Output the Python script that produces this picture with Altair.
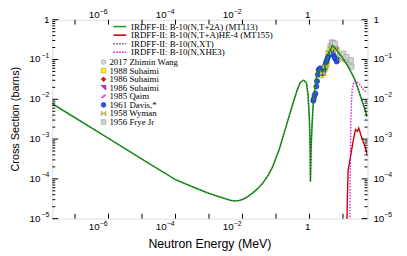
import altair as alt
import pandas as pd

W, H = 320, 202
E_DOMAIN = [2.1e-8, 54.0]
S_DOMAIN = [1e-5, 1.0]

# ---- evaluated curves (MeV, barns) ----
mt113_E = [2.09e-8, 1e-7, 1e-6, 5.0e-6, 2.0e-5, 1e-4, 2.5e-4, 4.5e-4, 8.9e-4, 1.7e-3,
           2.8e-3, 4.3e-3, 5.9e-3, 7.9e-3, 0.0105, 0.0148, 0.0204, 0.0288, 0.0407, 0.0575,
           0.0794, 0.126, 0.195, 0.309, 0.437, 0.537, 0.676, 0.813, 0.912, 1.0,
           1.047, 1.069, 1.122, 1.202, 1.285, 1.38, 1.50, 1.68, 1.86, 2.11,
           2.34, 2.64, 2.95, 3.32, 3.72, 4.15, 4.84, 5.62, 6.53, 9.16,
           11.5, 14.3, 17.8, 22.5, 28.2, 35.5, 43.7, 53.2]
mt113_xs = [7.76e-3, 3.44e-3, 1.04e-3, 4.49e-4, 2.19e-4, 9.55e-5, 6.92e-5, 5.62e-5, 4.47e-5, 3.72e-5,
            3.24e-5, 2.90e-5, 2.79e-5, 2.85e-5, 3.08e-5, 3.63e-5, 4.47e-5, 5.75e-5, 7.85e-5, 1.20e-4,
            2.0e-4, 5.62e-4, 1.91e-3, 7.08e-3, 0.0178, 0.0269, 0.0302, 0.026, 0.0123, 2.75e-3,
            6.2e-4, 8.5e-5, 6.3e-4, 2.5e-3, 7.0e-3, 0.0126, 0.0214, 0.0457, 0.0537, 0.055,
            0.0513, 0.0501, 0.0708, 0.0955, 0.132, 0.170, 0.224, 0.200, 0.170, 0.117,
            0.089, 0.066, 0.0468, 0.0316, 0.0186, 0.0102, 6.0e-3, 3.63e-3]
xt_E = list(mt113_E)
xt_xs = list(mt113_xs)

mt155_E = [12.6, 13.5, 14.3, 16.1, 20.1, 23.7, 27.0, 29.6, 33.8, 39.5, 46.6, 54.3]
mt155_xs = [1e-6, 3.1e-5, 1.66e-4, 2.88e-4, 8.9e-4, 1.73e-3, 1.57e-3, 1.89e-3, 1.30e-3, 8.9e-4, 6.1e-4, 3.85e-4]

xhe3_E = [15.5, 16.1, 16.4, 17.2, 18.8, 21.5, 25.3, 31.6, 39.5, 53.2]
xhe3_xs = [1e-6, 1e-5, 9.5e-5, 2.75e-3, 0.0178, 0.027, 0.0286, 0.0236, 0.0178, 0.0148]

# ---- experimental data (MeV, barns) ----
wang_E = [4.2, 4.8]
wang_xs = [0.23, 0.22]
suh88_E = [2.25, 2.6, 3.0, 3.3]
suh88_xs = [0.040, 0.045, 0.060, 0.075]
suh86a_E = [5.3]
suh86a_xs = [0.20]
suh86b_E = [5.7]
suh86b_xs = [0.19]
qaim_E = [6.3]
qaim_xs = [0.185]
davis_E = [1.30, 1.34, 1.42, 1.50, 1.60, 1.68, 1.78, 1.88, 2.00, 2.11, 2.25, 2.36, 2.50, 2.63,
           2.80, 2.95, 3.13, 3.31, 3.50, 3.70, 3.95, 4.15, 4.40, 4.65, 5.0, 5.5, 5.8, 6.5, 7.1]
davis_xs = [0.0092, 0.0102, 0.0125, 0.014, 0.021, 0.0286, 0.042, 0.0548, 0.058, 0.060, 0.050,
            0.0456, 0.047, 0.051, 0.062, 0.0726, 0.085, 0.096, 0.11, 0.125, 0.135, 0.14, 0.15,
            0.154, 0.14, 0.118, 0.106, 0.089, 0.1]
wyman_E = [2.46, 2.95, 3.7, 4.2, 4.85, 5.6, 6.5, 8.1, 9.2]
wyman_xs = [0.045, 0.066, 0.15, 0.18, 0.204, 0.19, 0.169, 0.127, 0.096]
frye_E = [4.65, 5.2, 5.8, 10.2, 12.8, 14.3, 16.0, 17.2, 18.0]
frye_xs = [0.27, 0.26, 0.25, 0.14, 0.116, 0.088, 0.08, 0.096, 0.066]

# ---- axes: tick values and labels ----
x_title = "Neutron Energy (MeV)"
y_title = "Cross Section (barns)"
x_label_values = [1e-6, 1e-4, 1e-2]
x_label_exps = ["\u22126", "\u22124", "\u22122"]
y_label_values = [1e-5, 1e-4, 1e-3, 1e-2, 1e-1]
y_label_exps = ["\u22125", "\u22124", "\u22123", "\u22122", "\u22121"]
x_major = [1e-7, 1e-6, 1e-5, 1e-4, 1e-3, 1e-2, 1e-1, 1, 10]
y_major = [1e-5, 1e-4, 1e-3, 1e-2, 1e-1, 1]
y_minor = [k * d for d in [1e-5, 1e-4, 1e-3, 1e-2, 1e-1] for k in range(2, 10)]

legend_lines = [
    ("IRDFF-II: B-10(N,T+2A) (MT113)", "#1ea01e", []),
    ("IRDFF-II: B-10(N,T+A)HE-4 (MT155)", "#cc0000", []),
    ("IRDFF-II: B-10(N,XT)", "#555555", [1.5, 1.5]),
    ("IRDFF-II: B-10(N,XHE3)", "#e000e0", [1.5, 1.5]),
]

FONT = "Liberation Sans"
SERIF = "Liberation Serif"
BASE_FS = 10
EXP_FS = 7

xscale = alt.Scale(type="log", domain=E_DOMAIN, nice=False)
yscale = alt.Scale(type="log", domain=S_DOMAIN, nice=False)


def curve(E, xs, color, width=1.5, dash=None):
    df = pd.DataFrame({"E": E, "xs": xs})
    kw = dict(color=color, strokeWidth=width, clip=True)
    if dash:
        kw["strokeDash"] = dash
    return alt.Chart(df).mark_line(**kw).encode(
        x=alt.X("E:Q", scale=xscale, axis=None),
        y=alt.Y("xs:Q", scale=yscale, axis=None),
    )


def points(E, xs, shape, fill, stroke, size=26):
    df = pd.DataFrame({"E": E, "xs": xs})
    return alt.Chart(df).mark_point(shape=shape, filled=True, fill=fill, stroke=stroke,
                                    strokeWidth=0.7, size=size, opacity=1, clip=True).encode(
        x=alt.X("E:Q", scale=xscale, axis=None),
        y=alt.Y("xs:Q", scale=yscale, axis=None),
    )


BOWTIE = "M-1,-1L1,1L1,-1L-1,1Z"
CORNER = "M-1,-1L1,-1L1,1Z"
SLANT = "M-1,0.6L0.2,-0.6L1,-0.6L-0.2,0.6Z"

exp_sets = [
    ("2017 Zhimin Wang", wang_E, wang_xs, "circle", "#dddddd", "#999999"),
    ("1988 Suhaimi", suh88_E, suh88_xs, "square", "#f4f040", "#d0a000"),
    ("1986 Suhaimi", suh86a_E, suh86a_xs, "diamond", "#e02020", "#a00000"),
    ("1986 Suhaimi", suh86b_E, suh86b_xs, CORNER, "#d020d0", "#a000a0"),
    ("1985 Qaim", qaim_E, qaim_xs, SLANT, "#ff50ff", "#e020e0"),
    ("1961 Davis,*", davis_E, davis_xs, "circle", "#3050f0", "#1030c0"),
    ("1958 Wyman", wyman_E, wyman_xs, BOWTIE, "#e8e820", "#909060"),
    ("1956 Frye Jr", frye_E, frye_xs, "square", "#d4d4d4", "#a0a0a0"),
]

layers = []
for _, E, xs, shp, fill, stroke in exp_sets:
    layers.append(points(E, xs, shp, fill, stroke))

layers.append(curve(mt113_E, mt113_xs, "#1ea01e", 1.6))
layers.append(curve(mt155_E, mt155_xs, "#cc0000", 1.4))
layers.append(curve(xhe3_E, xhe3_xs, "#e000e0", 1.3, dash=[1.5, 1.5]))
layers.append(curve(xt_E, xt_xs, "#333333", 1.0, dash=[1, 2]))

# inward ticks on all four sides
ymaj = pd.DataFrame({"v": y_major})
ymin = pd.DataFrame({"v": y_minor})
xmaj = pd.DataFrame({"v": x_major})
for df, x0, x1 in [(ymaj, 0, 6), (ymin, 0, 3), (ymaj, W, W - 6), (ymin, W, W - 3)]:
    layers.append(alt.Chart(df).mark_rule(color="black", strokeWidth=1).encode(
        y=alt.Y("v:Q", scale=yscale, axis=None), x=alt.value(x0), x2=alt.value(x1)))
for y0, y1 in [(H, H - 5), (0, 5)]:
    layers.append(alt.Chart(xmaj).mark_rule(color="black", strokeWidth=1).encode(
        x=alt.X("v:Q", scale=xscale, axis=None), y=alt.value(y0), y2=alt.value(y1)))

# tick labels "10" + superscript exponent
txt = dict(font=FONT, color="black")
xb = pd.DataFrame({"v": x_label_values})
xe = pd.DataFrame({"v": x_label_values, "t": x_label_exps})
x_one = pd.DataFrame({"v": [1.0]})
for yb in [H + 11.5, -1.5]:
    layers.append(alt.Chart(xb).mark_text(text="10", align="right", baseline="alphabetic",
                                          dx=-9, fontSize=BASE_FS, **txt).encode(
        x=alt.X("v:Q", scale=xscale, axis=None), y=alt.value(yb)))
    layers.append(alt.Chart(xe).mark_text(align="right", baseline="alphabetic", dx=-1,
                                          fontSize=EXP_FS, **txt).encode(
        x=alt.X("v:Q", scale=xscale, axis=None), y=alt.value(yb - 4), text="t:N"))
    layers.append(alt.Chart(x_one).mark_text(text="1", align="right", baseline="alphabetic",
                                             dx=1, fontSize=BASE_FS, **txt).encode(
        x=alt.X("v:Q", scale=xscale, axis=None), y=alt.value(yb)))

yb_df = pd.DataFrame({"v": y_label_values})
ye_df = pd.DataFrame({"v": y_label_values, "t": y_label_exps})
y_one = pd.DataFrame({"v": [1.0]})
for x_base, x_exp, x_one_pos, al in [(-12, -3, -3, "right"), (W + 6, W + 17, W + 6, "left")]:
    layers.append(alt.Chart(yb_df).mark_text(text="10", align=al, baseline="middle",
                                             fontSize=BASE_FS, **txt).encode(
        y=alt.Y("v:Q", scale=yscale, axis=None), x=alt.value(x_base)))
    layers.append(alt.Chart(ye_df).mark_text(align=al, baseline="middle", dy=-4,
                                             fontSize=EXP_FS, **txt).encode(
        y=alt.Y("v:Q", scale=yscale, axis=None), x=alt.value(x_exp), text="t:N"))
    layers.append(alt.Chart(y_one).mark_text(text="1", align=al, baseline="middle",
                                             fontSize=BASE_FS, **txt).encode(
        y=alt.Y("v:Q", scale=yscale, axis=None), x=alt.value(x_one_pos)))

# axis titles
one = pd.DataFrame({"a": [0]})
layers.append(alt.Chart(one).mark_text(text=x_title, align="center", baseline="alphabetic",
                                       fontSize=12.5, **txt).encode(
    x=alt.value(W / 2), y=alt.value(H + 30)))
layers.append(alt.Chart(one).mark_text(text=y_title, align="center", baseline="middle",
                                       angle=270, fontSize=11, **txt).encode(
    x=alt.value(-37), y=alt.value(H / 2)))

# legend (inside plot, top left)
for i, (lab, col, dash) in enumerate(legend_lines):
    yy = 7 + i * 8.7
    kw = dict(color=col, strokeWidth=1.6)
    if dash:
        kw["strokeDash"] = dash
    layers.append(alt.Chart(one).mark_rule(**kw).encode(
        x=alt.value(62), x2=alt.value(75), y=alt.value(yy)))
    layers.append(alt.Chart(one).mark_text(text=lab, font=SERIF, fontSize=9, align="left",
                                           baseline="middle", color="black").encode(
        x=alt.value(80), y=alt.value(yy)))
for i, (lab, _, _, shp, fill, stroke) in enumerate(exp_sets):
    yy = 43 + i * 8.7
    layers.append(alt.Chart(one).mark_point(shape=shp, filled=True, fill=fill, stroke=stroke,
                                            strokeWidth=0.7, size=22, opacity=1).encode(
        x=alt.value(52), y=alt.value(yy)))
    layers.append(alt.Chart(one).mark_text(text=lab, font=SERIF, fontSize=9, align="left",
                                           baseline="middle", color="black").encode(
        x=alt.value(58), y=alt.value(yy)))

chart = alt.layer(*layers).properties(
    width=W, height=H,
    padding={"left": 45, "top": 10, "right": 32, "bottom": 34},
    autosize=alt.AutoSizeParams(type="none"),
).configure_view(stroke="black", strokeWidth=1).configure(background="white")

chart.save("out.html", embed_options={"renderer": "svg", "actions": False})
